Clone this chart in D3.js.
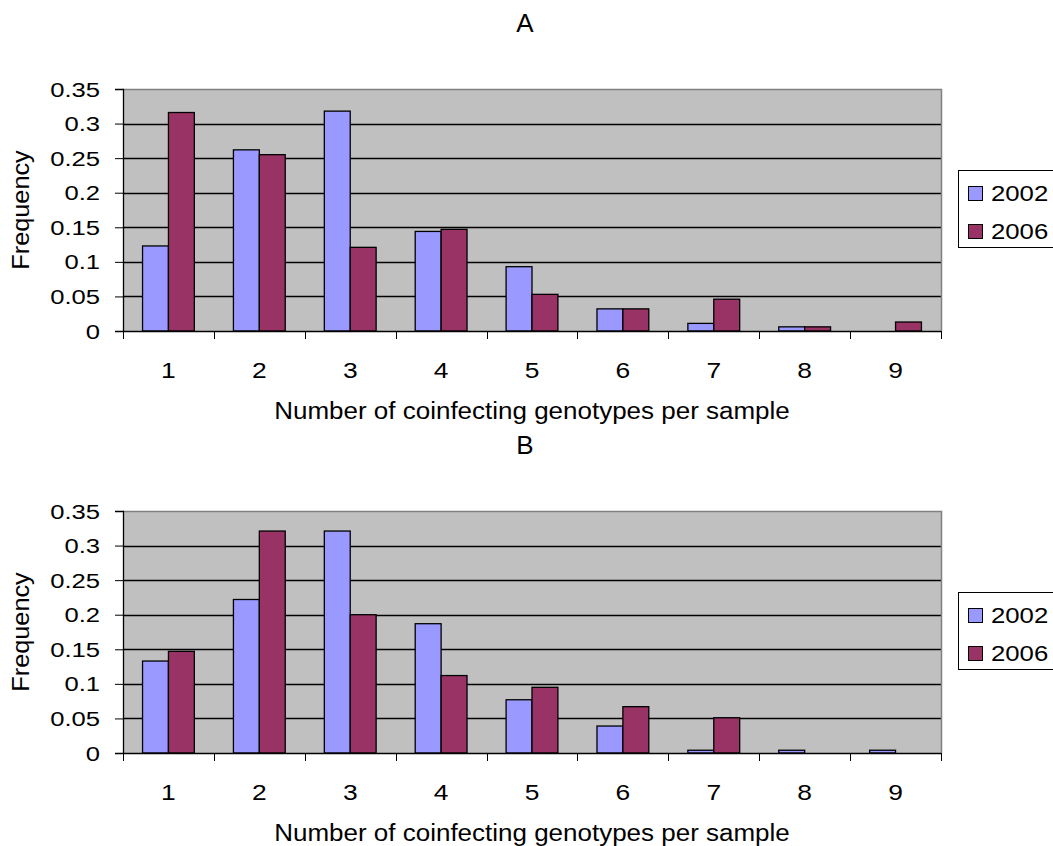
<!DOCTYPE html>
<html>
<head>
<meta charset="utf-8">
<script src="https://cdn.jsdelivr.net/npm/d3@7"></script>
<style>
  body { margin: 0; background: #fff; }
  text { font-family: "Liberation Sans", Arial, sans-serif; fill: #000; }
</style>
</head>
<body>
<script>
// Data
var categories = ["1", "2", "3", "4", "5", "6", "7", "8", "9"];
var seriesNames = ["2002", "2006"];
var a2002 = [0.123, 0.262, 0.318, 0.144, 0.093, 0.032, 0.011, 0.006, 0];
var a2006 = [0.316, 0.255, 0.121, 0.147, 0.053, 0.032, 0.046, 0.006, 0.013];
var b2002 = [0.133, 0.222, 0.321, 0.187, 0.077, 0.039, 0.004, 0.004, 0.004];
var b2006 = [0.147, 0.321, 0.200, 0.112, 0.095, 0.067, 0.051, 0, 0];
var yTicks = [0, 0.05, 0.1, 0.15, 0.2, 0.25, 0.3, 0.35];
var xTitle = "Number of coinfecting genotypes per sample";
var yTitle = "Frequency";

var colors = ["#9999FF", "#993366"];
var W = 1053, H = 846;
var left = 123, right = 941, plotH = 242;

var svg = d3.select("body").append("svg")
    .attr("width", W).attr("height", H);

// text drawn a bit wider than the font, like the original export
function stretchedText(g, x, y, str, size, sx, anchor) {
    return g.append("text")
        .attr("transform", "translate(" + x + "," + y + ") scale(" + sx + ",1)")
        .attr("text-anchor", anchor || "middle")
        .style("font-size", size + "px")
        .text(str);
}

function panel(top, title, v2002, v2006) {
    var g = svg.append("g");
    var bottom = top + plotH;

    var x = d3.scaleBand().domain(categories).range([left, right])
        .paddingInner(0.43).paddingOuter(0.215);
    var xs = d3.scaleBand().domain(seriesNames).range([0, x.bandwidth()]);
    var y = d3.scaleLinear().domain([0, 0.35]).range([bottom, top]);

    // plot area
    g.append("rect").attr("x", left).attr("y", top)
        .attr("width", right - left).attr("height", plotH)
        .attr("fill", "#C0C0C0");

    // gridlines
    g.selectAll(".grid").data(yTicks.slice(1, -1)).enter().append("line")
        .attr("x1", left).attr("x2", right)
        .attr("y1", function(d) { return Math.round(y(d)) + 0.5; })
        .attr("y2", function(d) { return Math.round(y(d)) + 0.5; })
        .attr("stroke", "#000").attr("stroke-width", 1.3);

    // gray frame on top / right
    g.append("path")
        .attr("d", "M" + left + "," + (top + 0.5) + "H" + (right + 0.5) + "V" + bottom)
        .attr("fill", "none").attr("stroke", "#808080").attr("stroke-width", 1.5);

    // bars
    var rows = categories.map(function(c, i) {
        return { cat: c, vals: [v2002[i], v2006[i]] };
    });
    var grp = g.selectAll(".grp").data(rows).enter().append("g")
        .attr("transform", function(d) { return "translate(" + x(d.cat) + ",0)"; });
    grp.selectAll("rect")
        .data(function(d) {
            return d.vals.map(function(v, j) { return { s: seriesNames[j], v: v, j: j }; })
                .filter(function(e) { return e.v > 0; });
        })
        .enter().append("rect")
        .attr("x", function(d) { return xs(d.s); })
        .attr("y", function(d) { return y(d.v); })
        .attr("width", xs.bandwidth())
        .attr("height", function(d) { return bottom - y(d.v); })
        .attr("fill", function(d) { return colors[d.j]; })
        .attr("stroke", "#000").attr("stroke-width", 1.3);

    // y axis
    var yAxis = g.append("g").attr("transform", "translate(" + left + ",0)")
        .call(d3.axisLeft(y).tickValues(yTicks).tickSize(8).tickPadding(0)
            .tickFormat(function(d) { return String(d); }));
    yAxis.select(".domain").attr("stroke", "#000").attr("stroke-width", 1.3);
    var ysx = 1.25;
    yAxis.selectAll("text")
        .attr("x", -23 / ysx).attr("dy", null).attr("y", 7)
        .attr("transform", "scale(" + ysx + ",1)")
        .style("font-size", "20.5px").attr("font-family", null);

    // x axis: ticks at category boundaries
    var bounds = d3.range(categories.length + 1).map(function(i) {
        return left + i * x.step();
    });
    g.append("line").attr("x1", left).attr("x2", right)
        .attr("y1", bottom + 0.5).attr("y2", bottom + 0.5)
        .attr("stroke", "#000").attr("stroke-width", 1.3);
    g.selectAll(".xt").data(bounds).enter().append("line")
        .attr("x1", function(d) { return Math.round(d) + 0.5; })
        .attr("x2", function(d) { return Math.round(d) + 0.5; })
        .attr("y1", bottom).attr("y2", bottom + 8)
        .attr("stroke", "#000");
    categories.forEach(function(c) {
        stretchedText(g, x(c) + x.bandwidth() / 2, bottom + 47, c, 22, 1.2);
    });

    // titles
    stretchedText(g, 532, bottom + 88, xTitle, 23, 1.13);
    g.append("text")
        .attr("transform", "translate(29," + (top + plotH / 2) + ") rotate(-90) scale(1.1,1)")
        .attr("text-anchor", "middle")
        .style("font-size", "23px")
        .text(yTitle);
    stretchedText(g, 525, top - 57, title, 26, 1.0);

    // legend
    var lg = g.append("g").attr("transform", "translate(958," + (top + 81) + ")");
    lg.append("rect").attr("x", 0.5).attr("y", 0.5).attr("width", 110).attr("height", 77)
        .attr("fill", "#fff").attr("stroke", "#000");
    seriesNames.forEach(function(s, j) {
        lg.append("rect").attr("x", 10.5).attr("y", 16.5 + j * 38)
            .attr("width", 14).attr("height", 14)
            .attr("fill", colors[j]).attr("stroke", "#000");
        stretchedText(lg, 33, 31 + j * 38, s, 22, 1.17, "start");
    });
}

panel(89, "A", a2002, a2006);
panel(511, "B", b2002, b2006);
</script>
</body>
</html>
